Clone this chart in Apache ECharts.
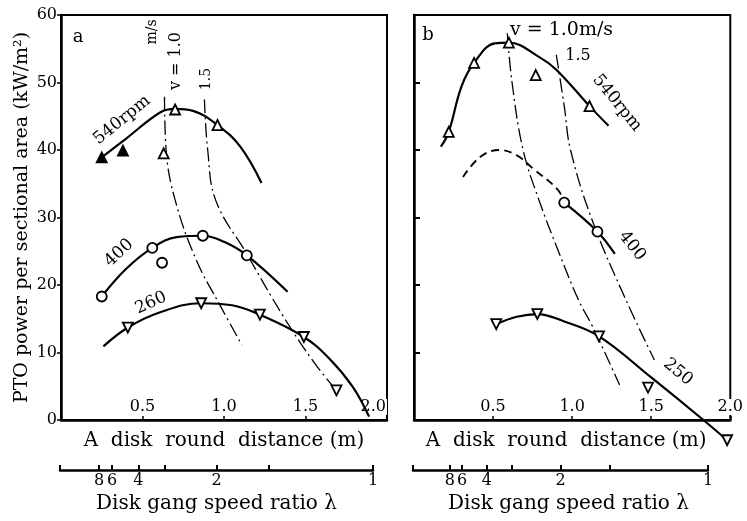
<!DOCTYPE html>
<html>
<head>
<meta charset="utf-8">
<script src="https://cdn.jsdelivr.net/npm/echarts@6/dist/echarts.min.js"></script>
<style>
html, body { margin: 0; padding: 0; background: #fff; }
#chart { width: 747px; height: 521px; }
</style>
</head>
<body>
<div id="chart"></div>
<script>
// panel a : measured points and hand-read curves
var a540Curve = [[0.25, 38.9], [0.40, 41.7], [0.61, 45.6], [0.70, 46.1], [0.81, 45.8], [0.96, 43.7], [1.10, 40.5], [1.23, 35.1]];
var a540Open = [[0.70, 46.0], [0.96, 43.7], [0.63, 39.5]];
var a540Filled = [[0.38, 39.9], [0.25, 38.9]];
var a400Curve = [[0.25, 18.3], [0.40, 22.4], [0.56, 25.5], [0.71, 27.1], [0.87, 27.3], [1.0, 26.4], [1.14, 24.4], [1.39, 19.0]];
var a400Points = [[0.25, 18.3], [0.56, 25.5], [0.87, 27.3], [1.14, 24.4], [0.62, 23.3]];
var a260Curve = [[0.26, 10.9], [0.41, 13.7], [0.60, 15.9], [0.86, 17.3], [1.05, 17.0], [1.22, 15.6], [1.49, 12.3], [1.65, 9.0], [1.79, 4.9], [1.89, 0.5]];
var a260Points = [[0.41, 13.7], [0.86, 17.3], [1.22, 15.6], [1.49, 12.3], [1.69, 4.4]];
var aV10 = [[0.635, 47.9], [0.645, 40], [0.70, 32.6], [0.83, 23.7], [0.98, 16.8], [1.11, 11.1]];
var aV15 = [[0.88, 47.5], [0.90, 40], [0.95, 32.5], [1.14, 24.6], [1.36, 15.5], [1.55, 8.6], [1.69, 4.4]];

// panel b
var b540Curve = [[0.17, 40.5], [0.22, 42.7], [0.30, 49.4], [0.38, 52.9], [0.51, 55.8], [0.60, 55.9], [0.79, 53.8], [0.90, 51.9], [1.11, 46.5], [1.23, 43.6]];
var b540Points = [[0.22, 42.7], [0.38, 52.9], [0.60, 55.9], [0.77, 51.1], [1.11, 46.5]];
var b400Dashed = [[0.31, 36.0], [0.42, 39.0], [0.54, 40.0], [0.65, 39.2], [0.75, 37.3], [0.91, 34.1], [0.95, 32.2]];
var b400Solid = [[0.95, 32.2], [1.16, 27.9], [1.27, 24.6]];
var b400Points = [[0.95, 32.2], [1.16, 27.9]];
var b250Curve = [[0.52, 14.2], [0.65, 15.3], [0.78, 15.7], [0.95, 14.6], [1.17, 12.4], [1.50, 6.3], [1.83, 0], [1.98, -3.0]];
var b250Points = [[0.52, 14.2], [0.78, 15.7], [1.17, 12.4], [1.48, 4.8], [1.98, -3.0]];
var bV10 = [[0.59, 57.3], [0.62, 50], [0.69, 40], [0.79, 32.6], [0.91, 25.2], [1.04, 17.8], [1.13, 13.8], [1.30, 5.2]];
var bV15 = [[0.90, 54.1], [0.95, 46.5], [0.99, 40], [1.13, 29.4], [1.34, 17.8], [1.52, 8.9]];

// lower scale: disk gang speed ratio (placed at 1/lambda)
var lambdaTicks = [8, 6, 4, 3, 2, 1.5, 1];
var lambdaLabels = [8, 6, 4, 2, 1];

var FONT = 'DejaVu Serif';
var BLACK = '#000';
var chart = echarts.init(document.getElementById('chart'));

function distAxis(gi, alignMax, namePad) {
  return {
    type: 'value', gridIndex: gi, min: 0, max: 2, interval: 0.5,
    axisLine: { lineStyle: { color: BLACK, width: 2.5 } },
    axisTick: { inside: true, length: 4, lineStyle: { color: BLACK, width: 1.5 } },
    axisLabel: {
      inside: true, margin: 5, color: BLACK, fontFamily: FONT, fontSize: 16,
      alignMaxLabel: alignMax, backgroundColor: '#fff', padding: [0, 1],
      formatter: function (v) { return v === 0 ? '' : v.toFixed(1); }
    },
    splitLine: { show: false },
    name: 'A  disk  round  distance (m)', nameLocation: 'middle', nameGap: 11,
    nameTextStyle: { color: BLACK, fontFamily: FONT, fontSize: 20, padding: namePad }
  };
}

function lambdaAxis(gi, namePad) {
  return {
    type: 'value', gridIndex: gi, min: 0, max: 1, position: 'bottom',
    axisLine: { lineStyle: { color: BLACK, width: 2.5 } },
    axisTick: {
      inside: true, length: 5, lineStyle: { color: BLACK, width: 2 },
      customValues: [0].concat(lambdaTicks.map(function (l) { return 1 / l; }))
    },
    axisLabel: {
      margin: 3, color: BLACK, fontFamily: FONT, fontSize: 16,
      customValues: lambdaLabels.map(function (l) { return 1 / l; }),
      formatter: function (v) { return v === 0 ? '' : String(Math.round(1 / v)); }
    },
    splitLine: { show: false },
    name: 'Disk gang speed ratio λ', nameLocation: 'middle', nameGap: 24,
    nameTextStyle: { color: BLACK, fontFamily: FONT, fontSize: 20, padding: namePad }
  };
}

function curve(data, xi, style) {
  return {
    type: 'line', xAxisIndex: xi, yAxisIndex: xi, data: data, smooth: 0.4,
    symbol: 'none', silent: true, z: 3,
    lineStyle: Object.assign({ color: BLACK, width: 2.2 }, style || {})
  };
}

function points(data, xi, sym, rot, fill, size) {
  return {
    type: 'scatter', xAxisIndex: xi, yAxisIndex: xi, data: data, symbol: sym,
    symbolSize: size || 10, symbolRotate: rot, clip: false, z: 5,
    itemStyle: { color: fill, borderColor: BLACK, borderWidth: 1.8, opacity: 1 }
  };
}

var dashDot = { width: 1.3, type: [14, 4, 2, 4] };
var dashed = { width: 1.8, type: [8, 5] };

function txt(s, x, y, size, rot, align) {
  return {
    type: 'text', x: x, y: y, rotation: rot || 0, z: 10,
    style: { text: s, fontFamily: FONT, fontSize: size, fill: BLACK, align: align || 'center', verticalAlign: 'middle' }
  };
}

var option = {
  animation: false,
  backgroundColor: '#fff',
  grid: [
    { left: 61, right: 360, top: 15, bottom: 101, show: true, borderColor: BLACK, borderWidth: 2 },
    { left: 414, right: 7, top: 15, bottom: 101, show: true, borderColor: BLACK, borderWidth: 2 },
    { left: 60, width: 313, top: 468, height: 2 },
    { left: 413, width: 295, top: 468, height: 2 }
  ],
  xAxis: [
    distAxis(0, 'right', [0, 0, 0, 0]),
    distAxis(1, null, [0, 12, 0, 0]),
    lambdaAxis(2, [0, 0, 0, 0]),
    lambdaAxis(3, [0, 0, 0, 16])
  ],
  yAxis: [
    {
      type: 'value', gridIndex: 0, min: 0, max: 60, interval: 10,
      axisLine: { lineStyle: { color: BLACK, width: 2.5 } },
      axisTick: { length: 4, lineStyle: { color: BLACK, width: 1.5 } },
      axisLabel: { margin: 4, color: BLACK, fontFamily: FONT, fontSize: 16 },
      splitLine: { show: false },
      name: 'PTO power per sectional area (kW/m²)', nameLocation: 'middle', nameRotate: 90, nameGap: 29,
      nameTextStyle: { color: BLACK, fontFamily: FONT, fontSize: 19 }
    },
    {
      type: 'value', gridIndex: 1, min: 0, max: 60, interval: 10,
      axisLine: { lineStyle: { color: BLACK, width: 2.5 } },
      axisTick: { inside: true, length: 6, lineStyle: { color: BLACK, width: 2 } },
      axisLabel: { show: false },
      splitLine: { show: false }
    },
    { type: 'value', gridIndex: 2, show: false },
    { type: 'value', gridIndex: 3, show: false }
  ],
  series: [
    curve(a540Curve, 0),
    curve(a400Curve, 0),
    curve(a260Curve, 0),
    curve(aV10, 0, dashDot),
    curve(aV15, 0, dashDot),
    points(a540Open, 0, 'triangle', 0, '#fff'),
    points(a540Filled, 0, 'triangle', 0, BLACK),
    points(a400Points, 0, 'circle', 0, '#fff'),
    points(a260Points, 0, 'triangle', 180, '#fff'),

    curve(b540Curve, 1),
    curve(b400Dashed, 1, dashed),
    curve(b400Solid, 1),
    Object.assign(curve(b250Curve, 1), { clip: false }),
    curve(bV10, 1, dashDot),
    curve(bV15, 1, dashDot),
    points(b540Points, 1, 'triangle', 0, '#fff'),
    points(b400Points, 1, 'circle', 0, '#fff'),
    points(b250Points, 1, 'triangle', 180, '#fff')
  ],
  graphic: [
    txt('a', 78, 37, 18),
    txt('m/s', 152, 32, 14, Math.PI / 2),
    txt('v = 1.0', 176, 61, 16, Math.PI / 2),
    txt('1.5', 206, 79, 14, Math.PI / 2),
    txt('540rpm', 122, 120, 17, 0.68),
    txt('400', 119, 253, 17, 0.75),
    txt('260', 151, 303, 17, 0.42),

    txt('b', 428, 35, 18),
    txt('v = 1.0m/s', 510, 30, 19, 0, 'left'),
    txt('1.5', 578, 56, 16),
    txt('540rpm', 617, 103, 17, -0.89),
    txt('400', 632, 246, 17, -0.9),
    txt('250', 678, 372, 17, -0.7)
  ]
};

chart.setOption(option);
</script>
</body>
</html>
